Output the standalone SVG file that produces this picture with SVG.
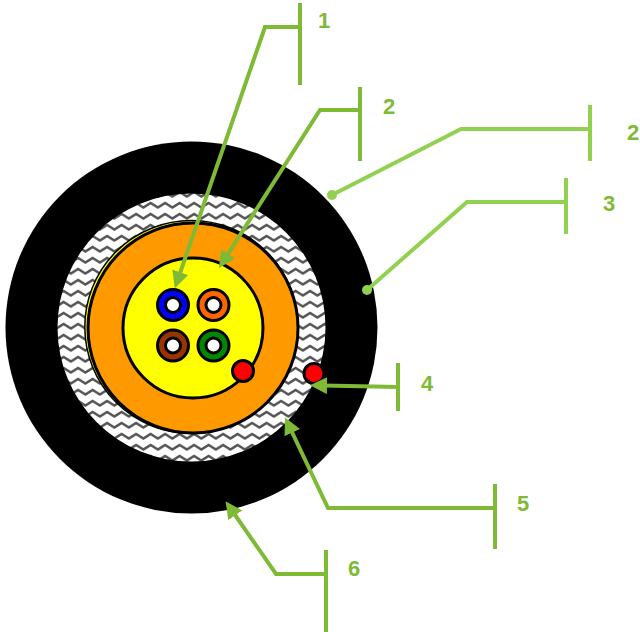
<svg xmlns="http://www.w3.org/2000/svg" width="640" height="632" viewBox="0 0 640 632">
<defs>
<pattern id="zig" width="14.500" height="11" patternUnits="userSpaceOnUse" x="2" y="2">
<rect width="14.500" height="11" fill="#fff"/>
<path d="M-3.625 7.500L3.625 3L10.875 7.500L18.125 3" fill="none" stroke="#555" stroke-width="2.400"/>
</pattern>
<marker id="a" markerUnits="userSpaceOnUse" markerWidth="20" markerHeight="20" refX="4" refY="8.500" orient="auto"><path d="M0 0L17 8.500L0 17z" fill="#7fba37"/></marker>
</defs>
<style>
.l{fill:none;stroke:#7fba37;stroke-width:4}
.m{fill:none;stroke:#92d050;stroke-width:4}
.k{stroke:#000;stroke-width:3}
.w{fill:#fff;stroke:#000;stroke-width:3}
text{font:bold 22px "Liberation Sans",Arial,sans-serif;fill:#7fba37}
</style>
<g id="jacket"><circle cx="191.500" cy="327.500" r="186"/></g>
<g id="armor"><circle cx="191.500" cy="327.500" r="134" fill="url(#zig)"/></g>
<g id="tape"><circle cx="191.300" cy="327" r="106.500" fill="#ff0" stroke="#000" stroke-width="1.500"/></g>
<g id="sheath"><circle cx="193" cy="328" r="105" fill="#f90" class="k"/></g>
<g id="core"><circle cx="193" cy="328" r="70" fill="#ff0" class="k"/></g>
<g id="fiber-blue"><circle cx="173" cy="305" r="15.500" fill="#00f" class="k"/><circle cx="173" cy="305" r="7.500" class="w"/></g>
<g id="fiber-orange"><circle cx="213.500" cy="305" r="15.500" fill="#f60" class="k"/><circle cx="213.500" cy="305" r="7.500" class="w"/></g>
<g id="fiber-brown"><circle cx="173" cy="345.500" r="15.500" fill="#930" class="k"/><circle cx="173" cy="345.500" r="7.500" class="w"/></g>
<g id="fiber-green"><circle cx="213.500" cy="345.500" r="15.500" fill="#080" class="k"/><circle cx="213.500" cy="345.500" r="7.500" class="w"/></g>
<g id="rip-inner"><circle cx="243" cy="371" r="10.500" fill="#f00" class="k"/></g>
<g id="rip-outer"><circle cx="314" cy="373.500" r="10" fill="#f00" class="k"/></g>
<g id="connectors">
<path class="l" d="M300 27H265L179 276" marker-end="url(#a)"/>
<path class="l" d="M300 3V85"/>
<path class="l" d="M360 110H320L226 257" marker-end="url(#a)"/>
<path class="l" d="M360 87V161"/>
<path class="m" d="M590 129H461L332 195"/>
<path class="m" d="M590 105V161"/>
<circle cx="332" cy="195" r="5" fill="#92d050"/>
<path class="m" d="M566 202H467L367 290"/>
<path class="m" d="M566 178V234"/>
<circle cx="367" cy="290" r="5" fill="#92d050"/>
<path class="l" d="M398 387L323 385.500" marker-end="url(#a)"/>
<path class="l" d="M398 363V411"/>
<path class="l" d="M495 508H328L290.500 429" marker-end="url(#a)"/>
<path class="l" d="M495 484V549"/>
<path class="l" d="M326 574H276L233 512" marker-end="url(#a)"/>
<path class="l" d="M326 550V632"/>
</g>
<g id="labels">
<text x="318" y="28">1</text>
<text x="383" y="114">2</text>
<text x="627" y="140">2</text>
<text x="603" y="211">3</text>
<text x="421" y="391">4</text>
<text x="517" y="511">5</text>
<text x="348" y="576">6</text>
</g>
</svg>
